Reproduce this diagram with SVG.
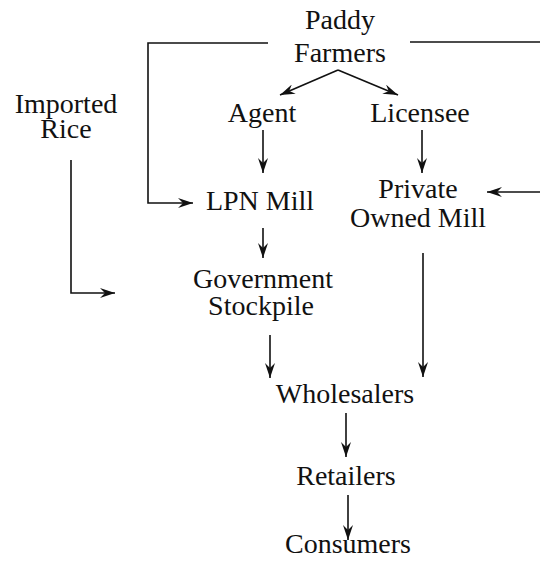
<svg xmlns="http://www.w3.org/2000/svg" width="540" height="566" viewBox="0 0 540 566">
<style>
text{font-family:"Liberation Serif","Times New Roman",serif;font-size:28px;fill:#111;text-anchor:middle}
.c{stroke:#111;stroke-width:1.6;fill:none}
</style>
<defs>
<marker id="ah" viewBox="0 0 16 10" refX="15" refY="5" markerWidth="16" markerHeight="10" markerUnits="userSpaceOnUse" orient="auto">
<path d="M0,0 L15,5 L0,10 L5,5 Z" fill="#111"/>
</marker>
</defs>
<rect width="540" height="566" fill="#fff"/>
<g id="connectors">
<path class="c" d="M268,43 H148 V203 H193" marker-end="url(#ah)"/>
<path class="c" d="M410,42 H540"/>
<path class="c" d="M540,192 H487" marker-end="url(#ah)"/>
<path class="c" d="M338,70 L280,95" marker-end="url(#ah)"/>
<path class="c" d="M338,70 L398,95" marker-end="url(#ah)"/>
<path class="c" d="M263,130 V173" marker-end="url(#ah)"/>
<path class="c" d="M422,130 V173" marker-end="url(#ah)"/>
<path class="c" d="M71,160 V293 H115" marker-end="url(#ah)"/>
<path class="c" d="M263,228 V258" marker-end="url(#ah)"/>
<path class="c" d="M423,253 V377" marker-end="url(#ah)"/>
<path class="c" d="M270,335 V378" marker-end="url(#ah)"/>
<path class="c" d="M346,413 V457" marker-end="url(#ah)"/>
<path class="c" d="M348,495 V540" marker-end="url(#ah)"/>
</g>
<g id="paddy"><text x="340" y="29">Paddy</text><text x="340" y="62">Farmers</text></g>
<g id="imported"><text x="66" y="113">Imported</text><text x="66" y="138">Rice</text></g>
<g id="agent"><text x="262" y="122">Agent</text></g>
<g id="licensee"><text x="420" y="122">Licensee</text></g>
<g id="lpn"><text x="260" y="210">LPN Mill</text></g>
<g id="private"><text x="418" y="198">Private</text><text x="418" y="227">Owned Mill</text></g>
<g id="gov"><text x="263" y="288">Government</text><text x="261" y="315">Stockpile</text></g>
<g id="wholesalers"><text x="345" y="403">Wholesalers</text></g>
<g id="retailers"><text x="346" y="485">Retailers</text></g>
<g id="consumers"><text x="348" y="553">Consumers</text></g>
</svg>
